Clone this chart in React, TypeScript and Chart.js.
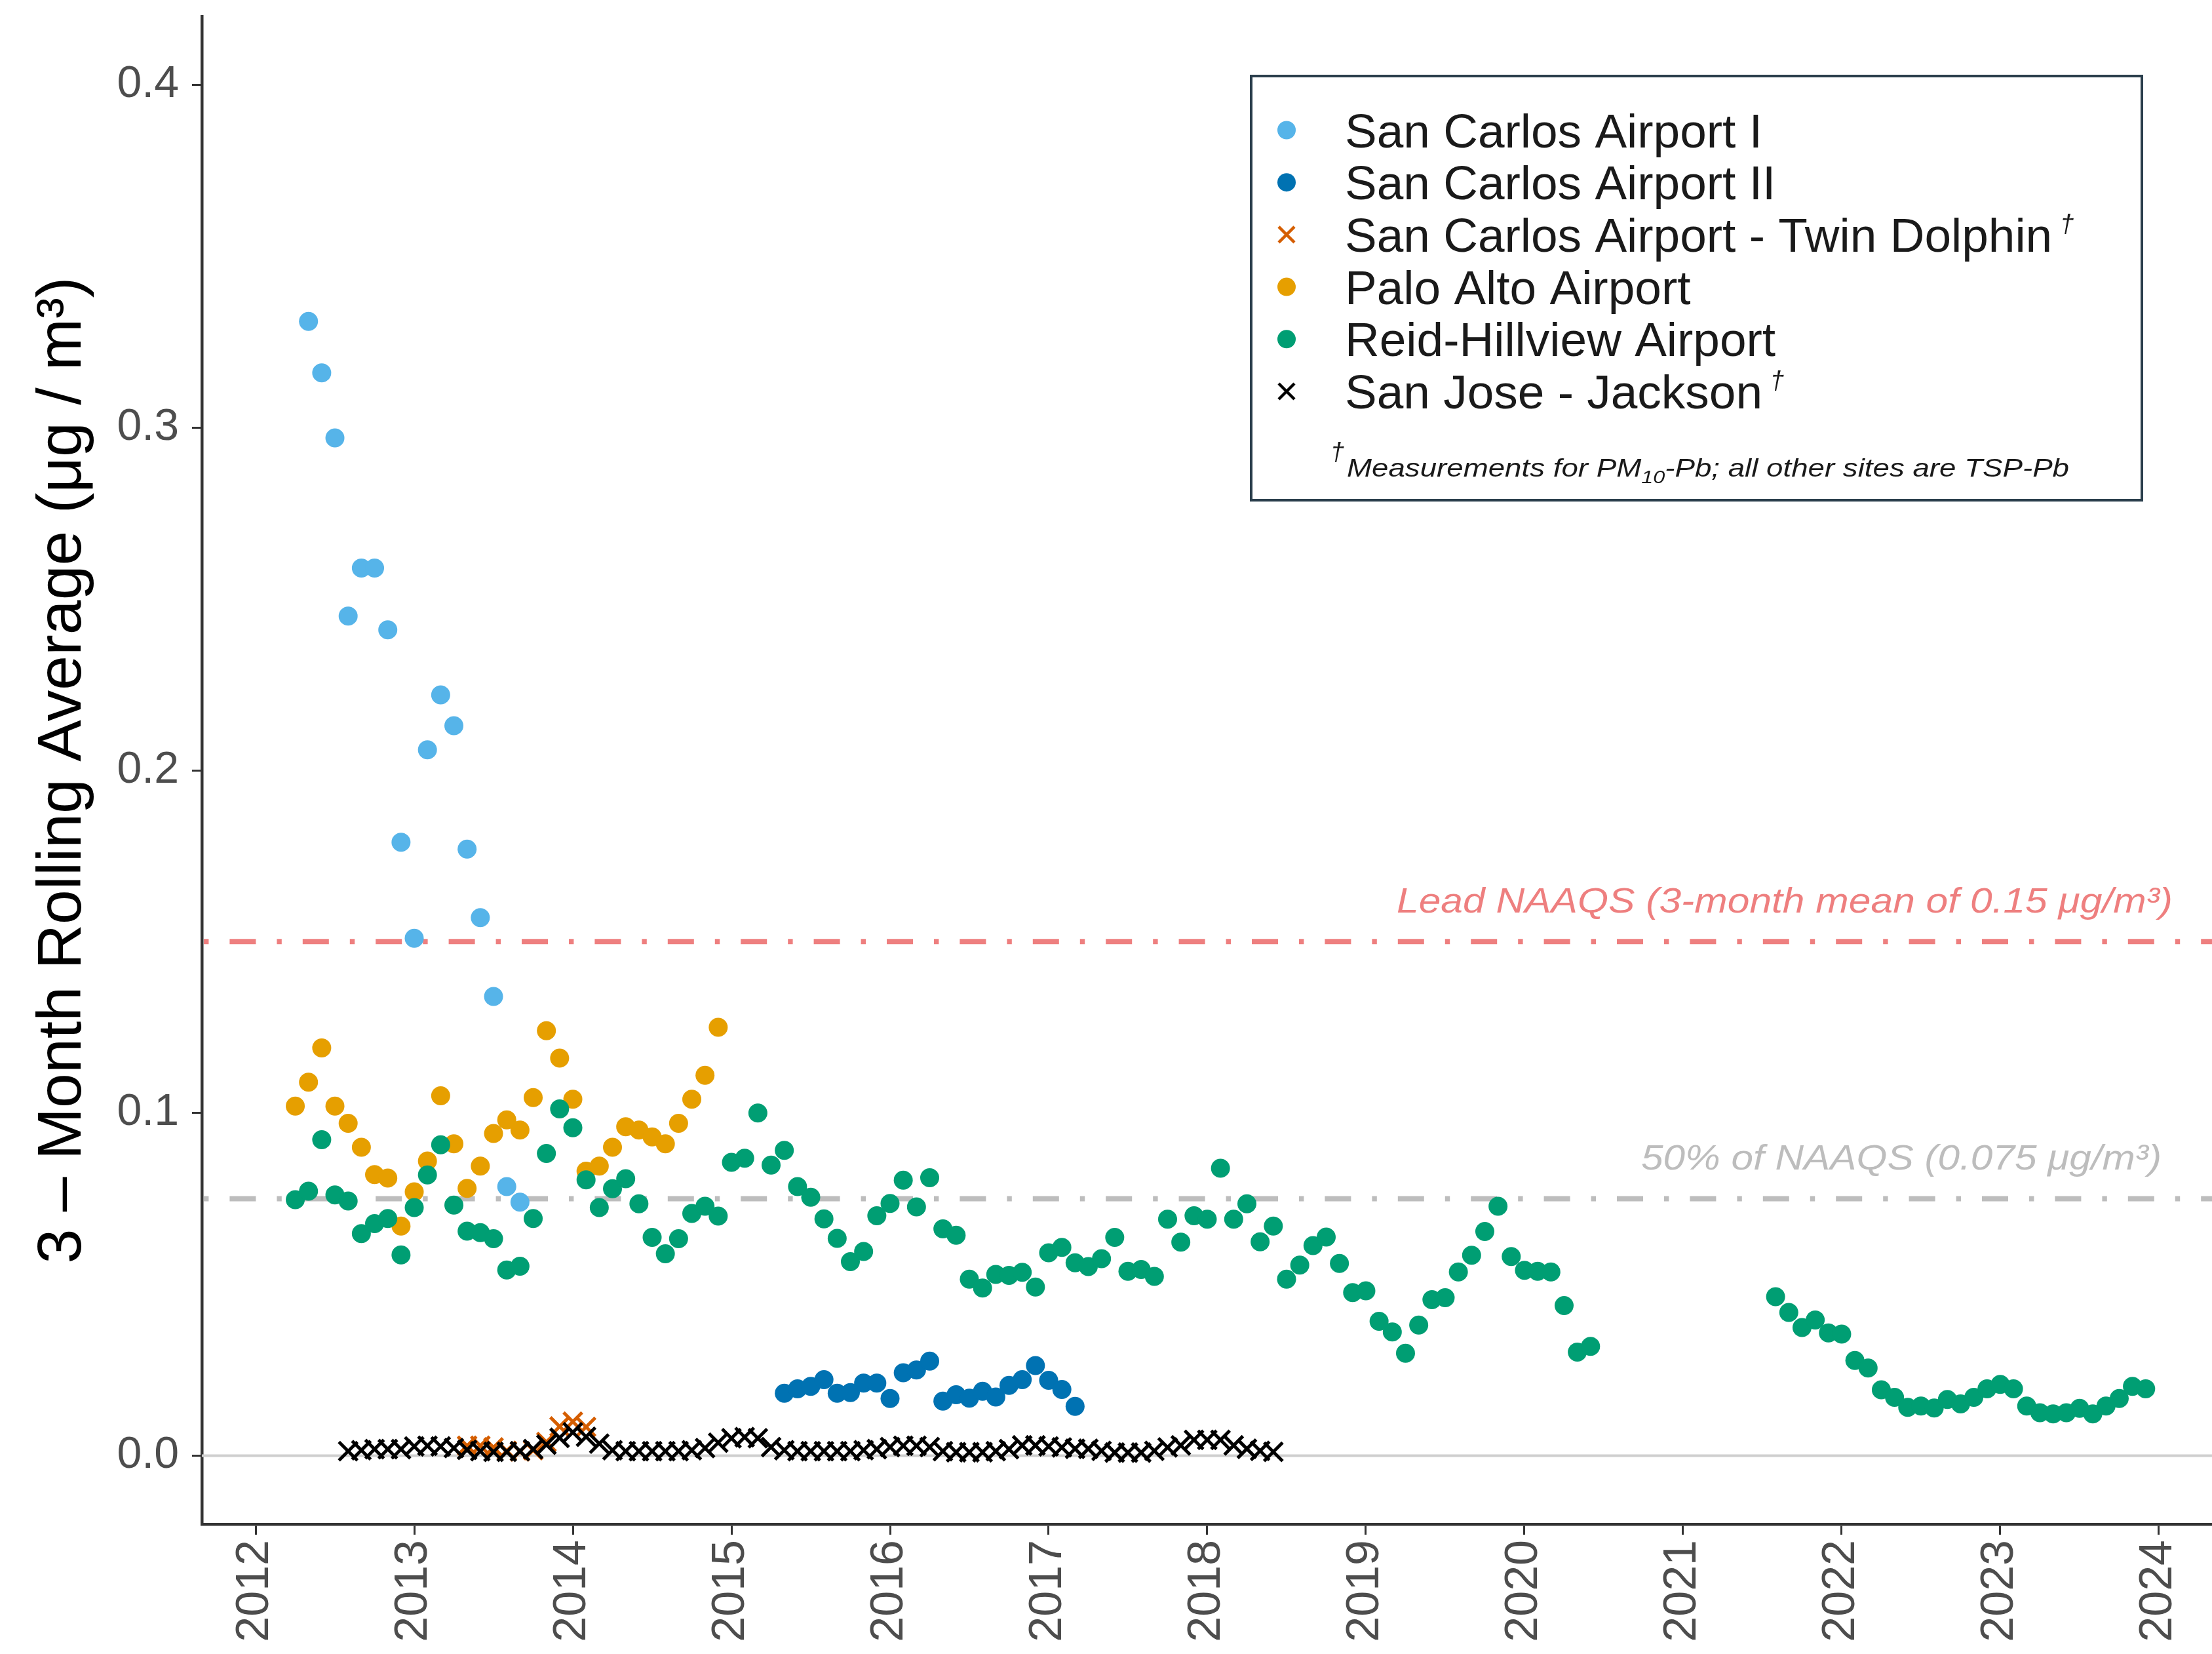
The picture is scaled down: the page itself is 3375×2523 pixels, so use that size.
import React, { useEffect, useRef } from "react";
import { Chart, registerables } from "chart.js";

Chart.register(...registerables);

const FONT = "'Liberation Sans', Arial, Helvetica, sans-serif";

// ---------- tick labels ----------
const yearTicks = [2012, 2013, 2014, 2015, 2016, 2017, 2018, 2019, 2020, 2021, 2022, 2023, 2024];
const valueTicks = [0, 0.1, 0.2, 0.3, 0.4];

// ---------- categories ----------
const siteNames = [
  "San Carlos Airport I",
  "San Carlos Airport II",
  "San Carlos Airport - Twin Dolphin",
  "Palo Alto Airport",
  "Reid-Hillview Airport",
  "San Jose - Jackson",
];
const siteIsPM10 = [false, false, true, false, false, true];
const footnote = ["Measurements for PM", "10", "-Pb; all other sites are TSP-Pb"];

// ---------- series (first month [year, month], then consecutive monthly 3-month rolling averages) ----------
const sanCarlosIStart: [number, number] = [2012, 5];
const sanCarlosI = [0.331, 0.316, 0.297, 0.245, 0.259, 0.259, 0.241, 0.179, 0.151, 0.206, 0.222, 0.213, 0.177, 0.157, 0.134, 0.0785, 0.074];

const sanCarlosIIStart: [number, number] = [2015, 5];
const sanCarlosII = [0.0182, 0.0195, 0.0202, 0.0222, 0.0182, 0.0184, 0.0212, 0.0212, 0.0167, 0.0242, 0.025, 0.0276, 0.0159, 0.0178, 0.0168, 0.0188, 0.0171, 0.0205, 0.0222, 0.0263, 0.022, 0.0193, 0.0144];

const twinDolphinStart: [number, number] = [2013, 5];
const twinDolphin = [0.0029, 0.0029, 0.0024, 0.0014, 0.0012, 0.0016, 0.004, 0.0085, 0.0099, 0.0084];

const paloAltoStart: [number, number] = [2012, 4];
const paloAlto = [0.102, 0.109, 0.119, 0.102, 0.097, 0.09, 0.082, 0.081, 0.067, 0.077, 0.086, 0.105, 0.091, 0.078, 0.0845, 0.094, 0.098, 0.095, 0.1045, 0.124, 0.116, 0.104, 0.083, 0.0845, 0.09, 0.096, 0.095, 0.093, 0.091, 0.097, 0.104, 0.111, 0.125];

const reidHillviewAStart: [number, number] = [2012, 4];
const reidHillviewA = [
  0.0747, 0.0772, 0.0922, 0.0761, 0.0743, 0.0648, 0.0677, 0.0692, 0.0586, 0.0724, 0.0819, 0.0907,
  0.0731, 0.0655, 0.0651, 0.0633, 0.0542, 0.0553, 0.0692, 0.0882, 0.1012, 0.0957, 0.0805, 0.0724,
  0.0779, 0.0808, 0.0735, 0.0637, 0.0589, 0.0633, 0.0707, 0.0728, 0.0699, 0.0856, 0.0868, 0.1,
  0.0848, 0.0891, 0.0785, 0.0754, 0.0691, 0.0634, 0.0566, 0.0596, 0.07, 0.0736, 0.0804, 0.0726,
  0.0811, 0.0662, 0.0643, 0.0515, 0.0489, 0.0529, 0.0526, 0.0535, 0.0492, 0.0592, 0.0608, 0.0563,
  0.0552, 0.0575, 0.0637, 0.0538, 0.0543, 0.0523, 0.069, 0.0623, 0.07, 0.069, 0.0839, 0.069,
  0.0735, 0.0624, 0.067, 0.0515, 0.0556, 0.0613, 0.0638, 0.0561, 0.0476, 0.0481, 0.0392, 0.0361,
  0.0299, 0.0381, 0.0455, 0.0461, 0.0536, 0.0585, 0.0654, 0.0728, 0.0581, 0.0541, 0.0538, 0.0536,
  0.0438, 0.0302, 0.0319,
];

const reidHillviewBStart: [number, number] = [2021, 8];
const reidHillviewB = [
  0.0464, 0.0418, 0.0374, 0.0396, 0.0358, 0.0355, 0.0278, 0.0256, 0.0192, 0.017, 0.0141, 0.0145,
  0.0139, 0.0164, 0.0151, 0.017, 0.0195, 0.0208, 0.0195, 0.0145, 0.0125, 0.0122, 0.0125, 0.0138,
  0.0122, 0.0145, 0.0167, 0.0202, 0.0195,
];

const sanJoseJacksonStart: [number, number] = [2012, 8];
const sanJoseJackson = [
  0.0013, 0.0016, 0.0019, 0.0019, 0.0019, 0.0027, 0.0029, 0.0027, 0.0022, 0.0017, 0.0013, 0.0011,
  0.0011, 0.0013, 0.0019, 0.0032, 0.0052, 0.0068, 0.0055, 0.0035, 0.0016, 0.0013, 0.0013, 0.0013,
  0.0013, 0.0013, 0.0016, 0.0022, 0.0038, 0.0051, 0.0054, 0.0051, 0.0025, 0.0016, 0.0013, 0.0013,
  0.0013, 0.0013, 0.0013, 0.0016, 0.0019, 0.0025, 0.0029, 0.0029, 0.0025, 0.0013, 0.001, 0.001,
  0.001, 0.0013, 0.0019, 0.003, 0.003, 0.0027, 0.0024, 0.002, 0.002, 0.0014, 0.0009, 0.0009,
  0.0009, 0.0014, 0.0024, 0.003, 0.0046, 0.0046, 0.0046, 0.003, 0.002, 0.0014, 0.0011,
];

// ---------- reference lines ----------
const zeroLevel = [0];
const naaqsLevels = [0.15, 0.075];
const naaqsLabels = ["Lead NAAQS (3-month mean of 0.15 μg/m³)", "50% of NAAQS (0.075 μg/m³)"];

// ---------- styles ----------
const siteColors = ["#56B4E9", "#0072B2", "#D55E00", "#E69F00", "#009E73", "#000000"];
const siteShapes = ["circle", "circle", "crossRot", "circle", "circle", "crossRot"];
const naaqsColors = ["#EE7F7F", "#BDBDBD"];

function monthly(start: [number, number], values: number[]) {
  return values.map((v, i) => ({ x: start[0] + (start[1] - 1 + i) / 12, y: v }));
}

function pointDataset(idx: number, data: { x: number; y: number }[], order: number) {
  const isCross = siteShapes[idx] === "crossRot";
  return {
    label: siteNames[idx],
    data,
    pointStyle: siteShapes[idx],
    pointRadius: isCross ? 20 : 14.5,
    pointHoverRadius: isCross ? 20 : 14.5,
    pointBackgroundColor: siteColors[idx],
    pointBorderColor: siteColors[idx],
    pointBorderWidth: isCross ? 5 : 0,
    showLine: false,
    order,
  };
}

// make the plot panel run to the right edge of the canvas, like the reference
const fullWidthPlugin = {
  id: "fullWidth",
  afterLayout(chart: any) {
    const ca = chart.chartArea;
    const target = chart.width;
    if (Math.abs(ca.right - target) > 0.5) {
      ca.right = target;
      ca.width = ca.right - ca.left;
      const x = chart.scales.x;
      x.right = target;
      x.width = x.right - x.left;
      x.configure();
    }
  },
};

const refLinesPlugin = {
  id: "refLines",
  beforeDatasetsDraw(chart: any) {
    const { ctx, chartArea, scales } = chart;
    const y = scales.y;
    ctx.save();
    ctx.strokeStyle = "#CFCFCF";
    ctx.lineWidth = 4;
    zeroLevel.forEach((lv) => {
      const py = y.getPixelForValue(lv);
      ctx.beginPath();
      ctx.moveTo(chartArea.left, py);
      ctx.lineTo(chartArea.right, py);
      ctx.stroke();
    });
    const labelRight = [3315, 3298];
    const labelWidth = [1184, 794];
    naaqsLevels.forEach((lv, i) => {
      const py = y.getPixelForValue(lv);
      ctx.strokeStyle = naaqsColors[i];
      ctx.lineWidth = 8;
      ctx.lineCap = "butt";
      ctx.setLineDash([40, 32, 7.4, 32]);
      ctx.lineDashOffset = 69;
      ctx.beginPath();
      ctx.moveTo(chartArea.left, py);
      ctx.lineTo(chartArea.right, py);
      ctx.stroke();
      ctx.setLineDash([]);
      ctx.font = `italic 54px ${FONT}`;
      ctx.fillStyle = naaqsColors[i];
      ctx.textAlign = "left";
      ctx.textBaseline = "alphabetic";
      const w = ctx.measureText(naaqsLabels[i]).width;
      const s = labelWidth[i] / w;
      ctx.save();
      ctx.translate(labelRight[i] - labelWidth[i], py - 44);
      ctx.scale(s, 1);
      ctx.fillText(naaqsLabels[i], 0, 0);
      ctx.restore();
    });
    ctx.restore();
  },
};

const legendPlugin = {
  id: "customLegend",
  afterDraw(chart: any) {
    const { ctx } = chart;
    ctx.save();
    const bx = 1909, by = 116, bw = 1359, bh = 647;
    ctx.fillStyle = "#FFFFFF";
    ctx.fillRect(bx, by, bw, bh);
    ctx.strokeStyle = "#2A3E4C";
    ctx.lineWidth = 4;
    ctx.strokeRect(bx, by, bw, bh);

    const symX = 1963;
    const textX = 2052;
    siteNames.forEach((name, i) => {
      const cy = 198.5 + i * 79.7;
      ctx.fillStyle = siteColors[i];
      ctx.strokeStyle = siteColors[i];
      if (siteShapes[i] === "circle") {
        ctx.beginPath();
        ctx.arc(symX, cy, 14, 0, Math.PI * 2);
        ctx.fill();
      } else {
        const h = 12;
        ctx.lineWidth = 4.5;
        ctx.beginPath();
        ctx.moveTo(symX - h, cy - h);
        ctx.lineTo(symX + h, cy + h);
        ctx.moveTo(symX + h, cy - h);
        ctx.lineTo(symX - h, cy + h);
        ctx.stroke();
      }
      ctx.fillStyle = "#1A1A1A";
      ctx.font = `73px ${FONT}`;
      ctx.textAlign = "left";
      ctx.textBaseline = "alphabetic";
      ctx.fillText(name, textX, cy + 26);
      if (siteIsPM10[i]) {
        const w = ctx.measureText(name).width;
        ctx.font = `italic 38px ${FONT}`;
        ctx.fillText("†", textX + w + 12, cy - 4);
      }
    });

    ctx.fillStyle = "#1A1A1A";
    ctx.font = `italic 38px ${FONT}`;
    ctx.fillText("†", 2030, 702);
    const fx = 2055, fy = 727, targetW = 1102;
    ctx.font = `italic 38px ${FONT}`;
    const w0 = ctx.measureText(footnote[0]).width;
    const w2 = ctx.measureText(footnote[2]).width;
    ctx.font = `italic 27px ${FONT}`;
    const w1 = ctx.measureText(footnote[1]).width;
    const s = targetW / (w0 + w1 + w2);
    ctx.save();
    ctx.translate(fx, fy);
    ctx.scale(s, 1);
    ctx.font = `italic 38px ${FONT}`;
    ctx.fillText(footnote[0], 0, 0);
    ctx.font = `italic 27px ${FONT}`;
    ctx.fillText(footnote[1], w0, 10);
    ctx.font = `italic 38px ${FONT}`;
    ctx.fillText(footnote[2], w0 + w1, 0);
    ctx.restore();
    ctx.restore();
  },
};

export default function App() {
  const canvasRef = useRef<HTMLCanvasElement | null>(null);

  useEffect(() => {
    const canvas = canvasRef.current;
    if (!canvas) return;
    const datasets = [
      pointDataset(5, monthly(sanJoseJacksonStart, sanJoseJackson), 0),
      pointDataset(4, monthly(reidHillviewAStart, reidHillviewA), 1),
      { ...pointDataset(4, monthly(reidHillviewBStart, reidHillviewB), 1), label: siteNames[4] + " (2021–2023)" },
      pointDataset(3, monthly(paloAltoStart, paloAlto), 3),
      pointDataset(2, monthly(twinDolphinStart, twinDolphin), 4),
      pointDataset(1, monthly(sanCarlosIIStart, sanCarlosII), 5),
      pointDataset(0, monthly(sanCarlosIStart, sanCarlosI), 6),
    ];

    const chart = new Chart(canvas, {
      type: "scatter",
      data: { datasets: datasets as any },
      options: {
        animation: false,
        responsive: false,
        devicePixelRatio: 1,
        layout: { padding: { top: 22, left: 0, right: 0, bottom: 0 } },
        plugins: {
          legend: { display: false },
          tooltip: { enabled: false },
        },
        events: [],
        scales: {
          x: {
            type: "linear",
            min: 2011.661,
            max: 2024.335,
            afterBuildTicks: (s: any) => {
              s.ticks = yearTicks.map((v) => ({ value: v }));
            },
            afterFit: (s: any) => {
              s.height = 198;
              s.paddingLeft = 0;
              s.paddingRight = 0;
            },
            ticks: {
              autoSkip: false,
              minRotation: 90,
              maxRotation: 90,
              padding: 8,
              color: "#4D4D4D",
              font: { size: 70, family: FONT },
              callback: (v: any) => String(v),
            },
            grid: {
              drawOnChartArea: false,
              drawTicks: true,
              tickLength: 16,
              color: "#333333",
              lineWidth: 3,
            },
            border: { display: true, color: "#333333", width: 4.5 },
          },
          y: {
            type: "linear",
            min: -0.02,
            max: 0.42,
            afterBuildTicks: (s: any) => {
              s.ticks = valueTicks.map((v) => ({ value: v }));
            },
            afterFit: (s: any) => {
              s.width = 308;
              s.paddingTop = 0;
              s.paddingBottom = 0;
            },
            ticks: {
              padding: 20,
              color: "#4D4D4D",
              font: { size: 68, family: FONT },
              callback: (v: any) => Number(v).toFixed(1),
            },
            grid: {
              drawOnChartArea: false,
              drawTicks: true,
              tickLength: 15,
              color: "#333333",
              lineWidth: 3,
            },
            border: { display: true, color: "#333333", width: 4.5 },
            title: {
              display: true,
              text: "3 – Month Rolling Average (μg / m³)",
              color: "#000000",
              font: { size: 95, family: FONT },
              padding: { top: 40, bottom: 0 },
            },
          },
        },
      },
      plugins: [fullWidthPlugin, refLinesPlugin, legendPlugin],
    });
    return () => chart.destroy();
  }, []);

  return (
    <div style={{ position: "fixed", left: 0, top: 0, width: 3375, height: 2523, background: "#FFFFFF" }}>
      <canvas ref={canvasRef} width={3375} height={2523} style={{ display: "block", width: 3375, height: 2523 }} />
    </div>
  );
}
